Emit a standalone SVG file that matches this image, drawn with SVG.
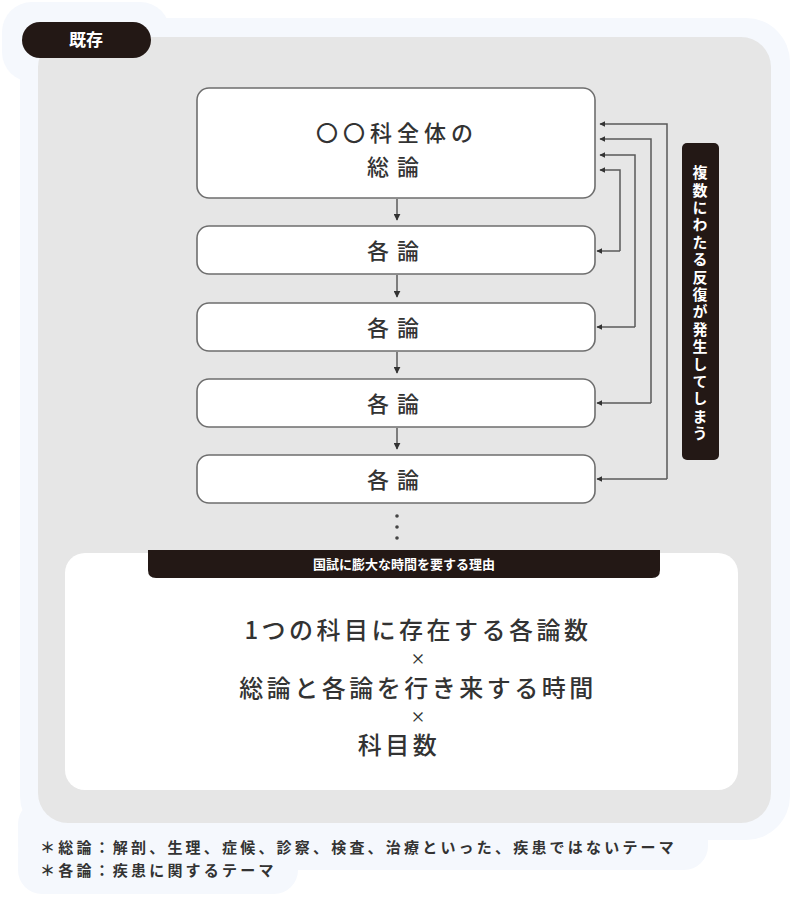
<svg xmlns="http://www.w3.org/2000/svg" width="794" height="898" viewBox="0 0 794 898">
<style>
.t{font-family:"Noto Sans CJK JP","Noto Sans CJK SC",sans-serif;font-weight:700}
.m{font-family:"Noto Sans CJK JP","Noto Sans CJK SC",sans-serif;font-weight:500}
.box{fill:#fff;stroke:#6e6e6e;stroke-width:1.6}
.dark{fill:#231815}
.ln{fill:none;stroke:#5a5a5a;stroke-width:1.5}
</style>
<defs>
<marker id="ah" viewBox="0 0 10 10" refX="9" refY="5" markerWidth="6" markerHeight="6" orient="auto" markerUnits="userSpaceOnUse">
<path d="M0,0 L10,5 L0,10 z" fill="#333"/>
</marker>
<marker id="ad" viewBox="0 0 10 10" refX="9" refY="5" markerWidth="7" markerHeight="7" orient="auto" markerUnits="userSpaceOnUse">
<path d="M0,0 L10,5 L0,10 z" fill="#333"/>
</marker>
</defs>
<rect width="794" height="898" fill="#fff"/>
<!-- halo -->
<g fill="#f5f8fd">
<rect x="2" y="2" width="168" height="80" rx="30"/>
<rect x="20" y="18" width="770" height="822" rx="44"/>
<rect x="18" y="800" width="690" height="70" rx="24"/>
<rect x="18" y="830" width="280" height="64" rx="24"/>
</g>
<!-- panel -->
<rect x="38" y="37" width="733" height="786" rx="30" fill="#e6e6e6"/>
<g id="label-existing">
<rect x="22" y="22" width="129" height="36" rx="18" class="dark"/>
<text x="86" y="46" class="t" font-size="17" fill="#fff" text-anchor="middle">既存</text>
</g>
<g id="node-general">
<rect x="197" y="88" width="398" height="110" rx="12" class="box"/>
<text x="397" y="141" class="m" font-size="22" fill="#333" text-anchor="middle" letter-spacing="5">〇〇科全体の</text>
<text x="397" y="175" class="m" font-size="22" fill="#333" text-anchor="middle" letter-spacing="8">総論</text>
</g>
<g id="node-each1">
<rect x="197" y="226" width="398" height="48" rx="12" class="box"/>
<text x="397" y="259" class="m" font-size="22" fill="#333" text-anchor="middle" letter-spacing="8">各論</text>
</g>
<g id="node-each2">
<rect x="197" y="303" width="398" height="48" rx="12" class="box"/>
<text x="397" y="336" class="m" font-size="22" fill="#333" text-anchor="middle" letter-spacing="8">各論</text>
</g>
<g id="node-each3">
<rect x="197" y="379" width="398" height="48" rx="12" class="box"/>
<text x="397" y="412" class="m" font-size="22" fill="#333" text-anchor="middle" letter-spacing="8">各論</text>
</g>
<g id="node-each4">
<rect x="197" y="455" width="398" height="48" rx="12" class="box"/>
<text x="397" y="488" class="m" font-size="22" fill="#333" text-anchor="middle" letter-spacing="8">各論</text>
</g>
<g id="connectors">
<line x1="397" y1="199" x2="397" y2="220" class="ln" marker-end="url(#ad)"/>
<line x1="397" y1="275" x2="397" y2="297" class="ln" marker-end="url(#ad)"/>
<line x1="397" y1="352" x2="397" y2="373" class="ln" marker-end="url(#ad)"/>
<line x1="397" y1="428" x2="397" y2="449" class="ln" marker-end="url(#ad)"/>
<path d="M620,251 L620,170 L600,170" class="ln" marker-end="url(#ah)"/>
<path d="M620,251 L597,251" class="ln" marker-end="url(#ah)"/>
<path d="M635,327 L635,155 L600,155" class="ln" marker-end="url(#ah)"/>
<path d="M635,327 L597,327" class="ln" marker-end="url(#ah)"/>
<path d="M651,403 L651,139 L600,139" class="ln" marker-end="url(#ah)"/>
<path d="M651,403 L597,403" class="ln" marker-end="url(#ah)"/>
<path d="M667,479 L667,124 L600,124" class="ln" marker-end="url(#ah)"/>
<path d="M667,479 L597,479" class="ln" marker-end="url(#ah)"/>
</g>
<g id="dots" fill="#444">
<circle cx="397" cy="516" r="1.8"/>
<circle cx="397" cy="527" r="1.8"/>
<circle cx="397" cy="538" r="1.8"/>
</g>
<g id="label-repeat">
<rect x="682" y="143" width="37" height="317" rx="5" class="dark"/>
<text x="700" y="165" class="t" font-size="15" fill="#fff" style="writing-mode:vertical-rl" letter-spacing="2.4">複数にわたる反復が発生してしまう</text>
</g>
<g id="node-reason">
<rect x="65" y="553" width="673" height="237" rx="20" fill="#fff"/>
<path d="M148,550 H660 V570 Q660,578 652,578 H156 Q148,578 148,570 Z" class="dark"/>
<text x="404" y="569" class="t" font-size="13" fill="#fff" text-anchor="middle">国試に膨大な時間を要する理由</text>
<text x="418" y="639" class="m" font-size="24" fill="#333" text-anchor="middle" letter-spacing="3.5">1つの科目に存在する各論数</text>
<text x="418" y="664" class="m" font-size="15" fill="#333" text-anchor="middle">×</text>
<text x="418" y="697" class="m" font-size="24" fill="#333" text-anchor="middle" letter-spacing="3.5">総論と各論を行き来する時間</text>
<text x="418" y="722" class="m" font-size="15" fill="#333" text-anchor="middle">×</text>
<text x="399" y="754" class="m" font-size="24" fill="#333" text-anchor="middle" letter-spacing="3.5">科目数</text>
</g>
<g id="footnotes">
<text x="40" y="853" class="t" font-size="15" fill="#333" letter-spacing="3.2">＊総論：解剖、生理、症候、診察、検査、治療といった、疾患ではないテーマ</text>
<text x="40" y="876" class="t" font-size="15" fill="#333" letter-spacing="3.2">＊各論：疾患に関するテーマ</text>
</g>
</svg>
